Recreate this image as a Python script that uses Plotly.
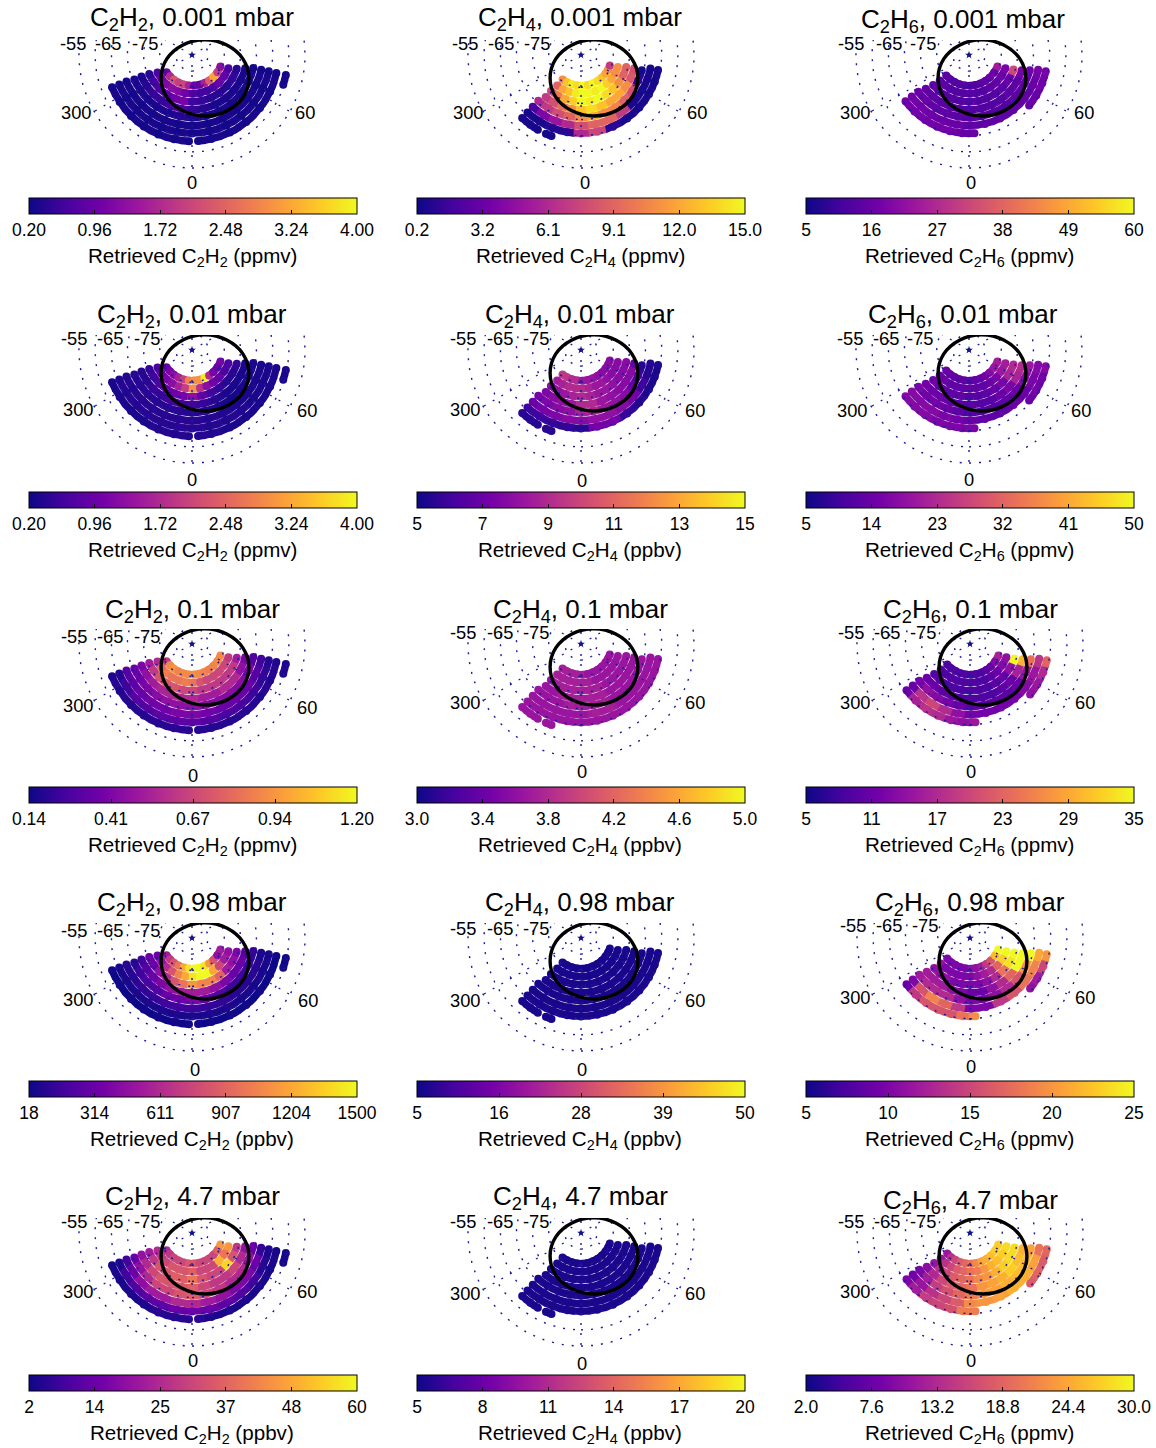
import math
import plotly.graph_objects as go
from plotly.colors import sample_colorscale

W, H = 1156, 1448
S = 3.23  # pixels per degree of colatitude
FONT = "Liberation Sans"

# ---- ring geometry (degrees from the pole) and longitudes of retrievals
RING_COLAT = [9.5, 12.0, 14.5, 17.0, 19.4, 21.9, 24.3, 26.7, 29.7]
LON_C2H2 = [
    [-56,-46,-36,-26,-16,-6,4,14,24,34,44,56,68],
    [-63,-52,-41,-31,-20,-10,1,12,22,33,44,57,70],
    [-66,-55,-44,-33,-22,-11,0,12,24,36,48,60,73],
    [-67,-56,-45,-34,-22,-11,0,12,25,38,50,63,76],
    [-67,-56,-45,-34,-22,-11,0,13,26,39,52,65,78],
    [-68,-57,-45,-34,-23,-11,0,13,26,39,52,65,78],
    [-68,-57,-45,-34,-23,-11,0,13,26,39,52,65,78],
    [-68,-57,-45,-34,-23,-12,-2,1,4,13,26,39,52,65,78],
    [72,78],
]
LON_C2H4 = [
    [-37,-27,-17,-7,3,13,23,33,43,53,62,70],
    [-38,-28,-18,-8,2,12,22,32,42,52,62,72],
    [-40,-30,-20,-10,0,11,22,33,43,54,65,75],
    [-40,-30,-20,-10,0,11,22,33,44,55,66,76],
    [-43,-32,-21,-10,0,11,22,33,44,55,66,76],
    [-43,-32,-21,-10,0,12,24,36,48,60,70,79],
    [-43,-32,-21,-10,0,12,24,36,48,60,70,79],
    [-43,-36,-30,-27,-24,-20],
]
LON_C2H6 = [
    [-48,-38,-28,-18,-8,2,12,22,32,42,55,68],
    [-49,-39,-29,-19,-9,1,11,22,33,45,57,70],
    [-50,-40,-30,-20,-10,0,11,22,34,46,59,72],
    [-52,-41,-30,-19,-9,2,13,24,36,48,61,74],
    [-54,-43,-32,-21,-10,1,12,24,37,50,63,76],
    [-54,-43,-32,-21,-10,1,13,26,39,52,65,78],
    [-54,-44,-34,-24,-14,-5,4,27,50,59,69,78],
]

# ---- retrieved abundances, ring by ring
C2H2_0P001 = [
    [1.0,1.7,2.3,2.0,2.1,1.6,1.0,0.9,1.6,2.4,3.2,2.0,1.3],
    [0.7,1.0,1.2,1.3,1.2,1.0,0.7,0.6,0.6,0.7,0.9,0.9,0.7],
    [0.4,0.6,0.7,0.8,1.0,1.1,0.6,0.5,0.4,0.4,0.4,0.5,0.4],
    [0.3,0.4,0.5,0.5,0.6,0.7,0.5,0.4,0.3,0.3,0.3,0.3,0.3],
    [0.3,0.3,0.3,0.3,0.3,0.35,0.3,0.3,0.25,0.25,0.25,0.25,0.25],
    [0.25,0.25,0.25,0.27,0.27,0.27,0.27,0.25,0.25,0.25,0.25,0.25,0.25],
    [0.25,0.25,0.25,0.25,0.25,0.25,0.25,0.25,0.25,0.25,0.25,0.25,0.25],
    [0.25,0.25,0.25,0.25,0.25,0.25,0.25,None,0.25,0.25,0.25,0.25,0.25,0.25,0.25],
    [0.25,0.25],
]
C2H2_0P01 = [
    [0.9,1.1,1.3,1.6,2.0,2.8,3.0,3.0,3.9,1.7,1.1,0.9,1.1],
    [0.7,0.9,1.1,1.3,1.6,2.0,3.0,1.8,1.3,1.0,0.9,0.7,0.7],
    [0.5,0.6,0.7,0.9,1.0,1.1,1.3,0.9,0.6,0.5,0.4,0.4,0.5],
    [0.4,0.4,0.5,0.5,0.6,0.6,0.6,0.5,0.4,0.3,0.3,0.3,0.3],
    [0.4,0.4,0.4,0.4,0.4,0.4,0.4,0.35,0.3,0.25,0.3,0.3,0.3],
    [0.35,0.35,0.4,0.4,0.4,0.4,0.4,0.35,0.35,0.3,0.3,0.3,0.3],
    [0.35,0.35,0.35,0.4,0.4,0.4,0.4,0.35,0.35,0.35,0.3,0.3,0.3],
    [0.3,0.3,0.3,0.3,0.35,0.35,0.35,None,0.35,0.35,0.3,0.3,0.3,0.3,0.3],
    [0.3,0.3],
]
C2H2_0P1 = [
    [0.62,0.90,0.93,0.88,0.90,0.90,0.92,0.90,0.88,0.86,0.88,0.90,0.90],
    [0.56,0.78,0.86,0.83,0.83,0.86,0.83,0.72,0.67,0.67,0.67,0.67,0.62],
    [0.51,0.62,0.72,0.72,0.72,0.67,0.67,0.62,0.62,0.62,0.62,0.62,0.51],
    [0.40,0.46,0.51,0.54,0.54,0.56,0.56,0.51,0.51,0.56,0.56,0.46,0.40],
    [0.35,0.37,0.40,0.44,0.46,0.46,0.46,0.44,0.44,0.44,0.44,0.40,0.30],
    [0.30,0.32,0.35,0.37,0.37,0.40,0.40,0.37,0.35,0.35,0.35,0.30,0.25],
    [0.19,0.25,0.30,0.30,0.32,0.32,0.32,0.30,0.27,0.27,0.25,0.22,0.19],
    [0.18,0.18,0.19,0.19,0.19,0.20,0.20,None,0.19,0.19,0.19,0.19,0.18,0.18,0.18],
    [0.18,0.18],
]
C2H2_0P98 = [
    [537,685,833,981,1204,1426,1500,1500,1426,1130,833,463,537],
    [314,463,611,833,1055,1204,1426,1500,1500,1204,759,537,463],
    [314,314,463,611,833,981,1130,1055,1055,907,537,463,388],
    [166,240,314,388,463,537,537,537,463,388,314,314,240],
    [92,166,196,240,314,314,388,314,240,166,166,137,122],
    [92,92,122,137,166,166,166,137,122,92,92,92,62],
    [48,62,62,62,62,62,62,62,62,48,48,48,48],
    [33,33,33,33,33,33,33,None,33,33,33,33,33,33,33],
    [33,33],
]
C2H2_4P7 = [
    [25,28,31,31,31,34,34,31,31,31,31,36,46],
    [25,28,31,34,34,34,36,31,31,31,50,40,46],
    [22,28,34,34,36,36,40,34,31,31,55,34,28],
    [20,25,31,34,34,34,36,31,28,28,31,25,20],
    [14,20,25,31,31,34,36,31,28,25,25,20,14],
    [8,14,19,22,22,25,25,22,20,17,17,14,6],
    [4,8,10,12,12,14,14,14,12,10,8,5,4],
    [3,3,4,4,5,5,5,None,5,4,4,4,4,3,3],
    [3,3],
]
C2H4_0P001 = [
    [11,13,14.5,14,15,14,15,14,13,12,11,7],
    [9,12,13,14.5,15,15,14.5,15,13.5,12,11,11],
    [8,10,12,13.5,15,14.5,15,14,13,11,9,9],
    [7,8,9.5,11,13,14,13,12,12,11,8.5,8],
    [6,7,8,9,11,12,11,10.5,9,8,1,0.5],
    [2,4,5,6,8,9,9,7,0.6,0.5,0.5,0.5],
    [0.5,0.6,0.8,1,6,7.5,1,0.5,0.5,0.5,0.5,0.5],
    [0.5,0.5,0.5,None,0.5,0.5],
]
C2H4_0P01 = [
    [9.5,9.5,9,9,8.3,8.3,8.3,8,7.8,7.8,7.8,7.8],
    [8.5,8.7,9,9,9,8.7,8.3,8.3,8,7.8,7.8,7.8],
    [7.8,8,8.3,8.7,9,8.7,8.3,8.3,8,7.8,7.8,7.8],
    [7.5,7.8,8,8.3,9,9,8.3,8,7.8,7.8,7.8,7],
    [7.3,7.5,7.8,8,8.7,8.7,8.3,8,7.8,7,6,5.5],
    [7,7.3,7.5,7.8,7.8,8,8,7.8,7.3,6,5.5,5.5],
    [6,6,5.8,5.7,5.6,7.3,7.3,5.8,5.4,5.3,5.3,5.3],
    [5.5,5.5,5.5,None,5.5,5.5],
]
C2H4_0P1 = [
    [3.72,3.72,3.72,3.72,3.72,3.65,3.65,3.65,3.65,3.65,3.65,3.65],
    [3.72,3.72,3.72,3.72,3.72,3.72,3.65,3.65,3.65,3.65,3.65,3.65],
    [3.65,3.72,3.72,3.72,3.72,3.72,3.72,3.65,3.65,3.65,3.65,3.65],
    [3.65,3.65,3.72,3.72,3.72,3.72,3.72,3.65,3.65,3.65,3.65,3.65],
    [3.65,3.65,3.65,3.72,3.72,3.72,3.72,3.65,3.65,3.65,3.65,3.65],
    [3.65,3.65,3.65,3.65,3.65,3.72,3.72,3.65,3.65,3.65,3.65,3.65],
    [3.65,3.65,3.65,3.65,3.65,3.65,3.65,3.65,3.65,3.65,3.65,3.65],
    [3.65,3.65,3.65,None,3.65,3.65],
]
C2H4_0P98 = [
    [6,6,6,6,6,6,6,6,6,6,6,6],
    [6,6,6,6,6,6,6,6,6,6,6,6],
    [6,6,6,6,6,6,6,6,6,6,6,6],
    [6,6,6,6,6,6,6,6,6,6,6,6],
    [6,6,6,6,6,6,6,6,6,6,6,6],
    [6,6,6,6,6,6,6,6,6,6,6,6],
    [6,6,6,6,6,6,6,6,6,6,6,6],
    [6,6,6,None,6,6],
]
C2H4_4P7 = [
    [5.4,5.4,5.4,5.4,5.4,5.4,5.4,5.4,5.4,5.4,5.4,5.4],
    [5.4,5.4,5.4,5.4,5.4,5.4,5.4,5.4,5.4,5.4,5.4,5.4],
    [5.4,5.4,5.4,5.4,5.4,5.4,5.4,5.4,5.4,5.4,5.4,5.4],
    [5.4,5.4,5.4,5.4,5.4,5.4,5.4,5.4,5.4,5.4,5.4,5.4],
    [5.4,5.4,5.4,5.4,5.4,5.4,5.4,5.4,5.4,5.4,5.4,5.4],
    [5.4,5.4,5.4,5.4,5.4,5.4,5.4,5.4,5.4,5.4,5.4,5.4],
    [5.4,5.4,5.4,5.4,5.4,5.4,5.4,5.4,5.4,5.4,5.4,5.4],
    [5.4,5.4,5.4,None,5.4,5.4],
]
C2H6_0P001 = [
    [14,14,13,13,13,13,13,14,15,16,17,24],
    [14,14,13,13,13,13,13,13,14,15,16,18],
    [15,14,13,13,13,13,13,13,13,14,16,33],
    [15,14,14,13,13,13,13,13,13,14,15,18],
    [16,16,15,15,14,14,14,13,13,14,15,17],
    [17,17,16,16,16,15,15,15,15,15,16,18],
    [17,17,17,17,17,16,16,None,16,16,17,18],
]
C2H6_0P01 = [
    [14,14,13,13,13,13,13,14,15,17,20,21],
    [14,14,13,13,13,13,13,13,14,16,20,21],
    [15,14,13,13,13,12,12,13,14,16,22,23],
    [15,14,14,13,12,12,12,12,14,16,22,23],
    [16,15,15,14,13,12,12,12,13,14,17,20],
    [17,17,17,16,15,14,13,13,14,14,16,17],
    [17,17,17,16,16,16,16,None,14,15,15,17],
]
C2H6_0P1 = [
    [9,9,9,9,9,9,9,9,10,11,13,16],
    [9,9,9,9,9,9,9,9,10,11,13,14],
    [10,10,9,9,9,9,9,9,10,11,14,35],
    [11,11,10,10,9,9,9,9,10,11,16,30],
    [12,14,13,12,11,10,10,10,10,11,15,24],
    [11,18,20,17,14,12,12,12,12,13,15,18],
    [11,16,18,17,15,14,15,None,14,15,17,23],
]
C2H6_0P98 = [
    [10,10,10,10,10,11,11,12,14,16,22,25],
    [11,10,10,10,10,10,11,12,13,17,23,25],
    [11,11,11,10,10,10,10,11,13,18,24,25],
    [12,12,12,11,10,9,9,11,13,17,25,25],
    [12,13,13,13,11,10,10,11,13,16,20,25],
    [10,16,19,17,14,10,10,14,16,18,19,21],
    [9,14,16,16,16,18,19.5,None,11,12,15,20],
]
C2H6_4P7 = [
    [11,14,16,18,19,20,22,24,25,26,27,27],
    [11,14,16,18,19,20,21,23,25,26,27,28],
    [11,14,16,18,19,20,22,23,25,27,28,28],
    [10,13,16,18,19,20,23,24,25,27,26,25],
    [9,12,15,17,19,21,23,24,25,26,26,24],
    [8,11,14,16,18,22,23,24,25,25,24,20],
    [9,12,15,16,17,21,21,None,18,19,18,19],
]

# ---- auroral oval (latitude, longitude) and graticule
OVAL_LAT = [-71.0,-69.5,-69.6,-70.7,-72.5,-74.8,-78.1,-82.1,-85.8,-83.8,-78.8,-74.2,-71.0]
OVAL_LON = [68,50.6,32,12,-9.2,-31,-53.5,-81.3,-138,139.6,106,85.7,68]
CIRCLE_LATS = [-55,-60,-65,-70,-75,-80,-85]
SPOKE_LONS = [0,60,120,180,240,300]
LABEL_LATS = ["-55","-65","-75"]

# ---- text and colourbar ticks
PANELS = [
    # gas, pressure, unit, data, lons, ticks, tick text
    ("2H2","0.001","ppmv",C2H2_0P001,LON_C2H2,[0.20,0.96,1.72,2.48,3.24,4.00],["0.20","0.96","1.72","2.48","3.24","4.00"]),
    ("2H4","0.001","ppmv",C2H4_0P001,LON_C2H4,[0.2,3.16,6.12,9.08,12.04,15.0],["0.2","3.2","6.1","9.1","12.0","15.0"]),
    ("2H6","0.001","ppmv",C2H6_0P001,LON_C2H6,[5,16,27,38,49,60],["5","16","27","38","49","60"]),
    ("2H2","0.01","ppmv",C2H2_0P01,LON_C2H2,[0.20,0.96,1.72,2.48,3.24,4.00],["0.20","0.96","1.72","2.48","3.24","4.00"]),
    ("2H4","0.01","ppbv",C2H4_0P01,LON_C2H4,[5,7,9,11,13,15],["5","7","9","11","13","15"]),
    ("2H6","0.01","ppmv",C2H6_0P01,LON_C2H6,[5,14,23,32,41,50],["5","14","23","32","41","50"]),
    ("2H2","0.1","ppmv",C2H2_0P1,LON_C2H2,[0.14,0.405,0.67,0.935,1.20],["0.14","0.41","0.67","0.94","1.20"]),
    ("2H4","0.1","ppbv",C2H4_0P1,LON_C2H4,[3.0,3.4,3.8,4.2,4.6,5.0],["3.0","3.4","3.8","4.2","4.6","5.0"]),
    ("2H6","0.1","ppmv",C2H6_0P1,LON_C2H6,[5,11,17,23,29,35],["5","11","17","23","29","35"]),
    ("2H2","0.98","ppbv",C2H2_0P98,LON_C2H2,[18,314.4,610.8,907.2,1203.6,1500],["18","314","611","907","1204","1500"]),
    ("2H4","0.98","ppbv",C2H4_0P98,LON_C2H4,[5,16.25,27.5,38.75,50],["5","16","28","39","50"]),
    ("2H6","0.98","ppmv",C2H6_0P98,LON_C2H6,[5,10,15,20,25],["5","10","15","20","25"]),
    ("2H2","4.7","ppbv",C2H2_4P7,LON_C2H2,[2,13.6,25.2,36.8,48.4,60],["2","14","25","37","48","60"]),
    ("2H4","4.7","ppbv",C2H4_4P7,LON_C2H4,[5,8,11,14,17,20],["5","8","11","14","17","20"]),
    ("2H6","4.7","ppmv",C2H6_4P7,LON_C2H6,[2,7.6,13.2,18.8,24.4,30],["2.0","7.6","13.2","18.8","24.4","30.0"]),
]

# ---- placement, in page pixels
POLE_XY = [(192,55),(581,55),(969,55),(192,350),(581,350),(969,350),(192,644),(581,644),(970,644),
           (192,938),(581,938),(970,938),(192,1233),(581,1233),(970,1233)]
TITLE_XY = [(192,18),(580,18),(963,21),(192,316),(580,316),(963,316),(192,610),(580,610),(970,610),
            (192,903),(580,903),(970,903),(192,1197),(580,1197),(970,1201)]
L300_XY = [(76,112),(468,112),(855,112),(78,409),(465,409),(852,410),(78,706),(465,702),(855,703),
           (78,999),(465,1000),(855,997),(78,1291),(465,1293),(855,1291)]
L60_XY = [(305,113),(697,113),(1084,113),(307,410),(695,410),(1081,410),(307,707),(695,702),(1085,703),
          (308,1000),(695,1000),(1085,997),(307,1291),(695,1293),(1085,1291)]
L0_XY = [(192,182),(585,183),(971,183),(192,479),(582,480),(969,479),(193,775),(582,771),(971,771),
         (195,1069),(582,1069),(971,1066),(193,1360),(582,1363),(971,1360)]
LAT_LABEL_X = [(73,108,145),(465,501,537),(851,889,923),(74,110,147),(463,500,536),(850,886,920),
               (74,110,147),(463,500,536),(851,887,923),(74,110,147),(463,500,536),(853,889,925),
               (74,110,147),(463,500,536),(851,887,923)]
LAT_LABEL_Y = [43,43,43,339,339,339,636,632,632,930,929,926,1221,1221,1221]
BAR_CX = [193,581,970]
BAR_TOP = [198,492,787,1081,1375]
BAR_LEN = 328
BAR_TITLE_DY = 59


def to_xy(colat, lon):
    a = math.radians(lon)
    return colat * math.sin(a), -colat * math.cos(a)


fig = go.Figure()
annotations = []


def label(text, xy, size=18.3):
    annotations.append(dict(text=text, x=xy[0] / W, y=1 - xy[1] / H, xref="paper", yref="paper",
                            xanchor="center", yanchor="middle", showarrow=False,
                            font=dict(family=FONT, size=size, color="black")))


layout_axes = {}
for i, (gas, pres, unit, rings, lons, ticks, ticktext) in enumerate(PANELS):
    n = i + 1
    xa, ya = f"x{n}", f"y{n}"
    px, py = POLE_XY[i]
    layout_axes[f"xaxis{n}"] = dict(domain=[(px - 125) / W, (px + 125) / W], range=[-125 / S, 125 / S],
                                    visible=False, fixedrange=True, anchor=ya)
    layout_axes[f"yaxis{n}"] = dict(domain=[1 - (py + 120) / H, 1 - (py - 15) / H], range=[-120 / S, 15 / S],
                                    visible=False, fixedrange=True, anchor=xa)
    cmin, cmax = ticks[0], ticks[-1]

    # colour-matched ring segments between retrievals
    bins = {}
    mx, my, mc = [], [], []
    for k, (ring, ring_lons) in enumerate(zip(rings, lons)):
        colat = RING_COLAT[k]
        for j, v in enumerate(ring):
            if v is None:
                continue
            x, y = to_xy(colat, ring_lons[j])
            mx.append(x); my.append(y); mc.append(v)
            lo = ring_lons[j]
            hi = ring_lons[j]
            if j > 0 and ring[j - 1] is not None:
                lo = (ring_lons[j - 1] + ring_lons[j]) / 2 - 0.4
            if j < len(ring) - 1 and ring[j + 1] is not None:
                hi = (ring_lons[j + 1] + ring_lons[j]) / 2 + 0.4
            t = round(min(max((v - cmin) / (cmax - cmin), 0), 1) * 40)
            xs, ys = bins.setdefault(t, ([], []))
            for f in (0, 0.25, 0.5, 0.75, 1):
                sx, sy = to_xy(colat, lo + (hi - lo) * f)
                xs.append(sx); ys.append(sy)
            xs.append(None); ys.append(None)
    for t, (xs, ys) in sorted(bins.items()):
        colour = sample_colorscale("Plasma", [t / 40])[0]
        fig.add_trace(go.Scatter(x=xs, y=ys, xaxis=xa, yaxis=ya, mode="lines", hoverinfo="skip",
                                 showlegend=False, line=dict(color=colour, width=7.4)))

    row, col = i // 3, i % 3
    fig.add_trace(go.Scatter(
        x=mx, y=my, xaxis=xa, yaxis=ya, mode="markers", showlegend=False, hoverinfo="skip",
        marker=dict(size=8.0, color=mc, colorscale="Plasma", cmin=cmin, cmax=cmax, line=dict(width=0),
                    showscale=True,
                    colorbar=dict(orientation="h", x=BAR_CX[col] / W, xanchor="center",
                                  y=1 - BAR_TOP[row] / H, yanchor="top", yref="paper",
                                  len=BAR_LEN / W, lenmode="fraction", thickness=16, thicknessmode="pixels",
                                  xpad=0, ypad=0, outlinewidth=1, outlinecolor="black",
                                  tickmode="array", tickvals=ticks, ticktext=ticktext,
                                  ticks="inside", ticklen=4, tickwidth=1, tickcolor="black",
                                  tickfont=dict(family=FONT, size=17.5, color="black")))))

    # graticule
    for lat in CIRCLE_LATS:
        colat = 90 + lat
        pts = [to_xy(colat, a) for a in range(0, 361, 3)]
        fig.add_trace(go.Scatter(x=[p[0] for p in pts], y=[p[1] for p in pts], xaxis=xa, yaxis=ya, mode="lines",
                                 hoverinfo="skip", showlegend=False,
                                 line=dict(color="#1a1a9c", width=1.4, dash="2px,8px")))
    for lon in SPOKE_LONS:
        end = to_xy(35, lon)
        fig.add_trace(go.Scatter(x=[0, end[0]], y=[0, end[1]], xaxis=xa, yaxis=ya, mode="lines",
                                 hoverinfo="skip", showlegend=False,
                                 line=dict(color="#1a1a9c", width=1.4, dash="2px,8px")))
    # pole star
    fig.add_trace(go.Scatter(x=[0], y=[0], xaxis=xa, yaxis=ya, mode="markers", hoverinfo="skip", showlegend=False,
                             marker=dict(symbol="star", size=6, color="#14148c", line=dict(width=0))))
    # auroral oval
    ov = [to_xy(90 + a, b) for a, b in zip(OVAL_LAT, OVAL_LON)]
    fig.add_trace(go.Scatter(x=[p[0] for p in ov], y=[p[1] for p in ov], xaxis=xa, yaxis=ya, mode="lines",
                             hoverinfo="skip", showlegend=False, cliponaxis=False,
                             line=dict(color="black", width=3.4, shape="spline", smoothing=1)))

    label(f"C<sub>2</sub>H<sub>{gas[-1]}</sub>, {pres} mbar", TITLE_XY[i], 26)
    label("300", L300_XY[i])
    label("60", L60_XY[i])
    label("0", L0_XY[i])
    for text, lx in zip(LABEL_LATS, LAT_LABEL_X[i]):
        label(text, (lx, LAT_LABEL_Y[i]))
    label(f"Retrieved C<sub>2</sub>H<sub>{gas[-1]}</sub> ({unit})",
          (BAR_CX[col] - 1, BAR_TOP[row] + BAR_TITLE_DY), 20.6)

fig.update_layout(width=W, height=H, paper_bgcolor="white", plot_bgcolor="rgba(0,0,0,0)",
                  margin=dict(l=0, r=0, t=0, b=0, autoexpand=False), showlegend=False,
                  annotations=annotations, font=dict(family=FONT, color="black"), **layout_axes)
fig.write_html("out.html", config=dict(displayModeBar=False),
               post_script="document.body.style.margin='0';document.documentElement.style.overflow='hidden';")
